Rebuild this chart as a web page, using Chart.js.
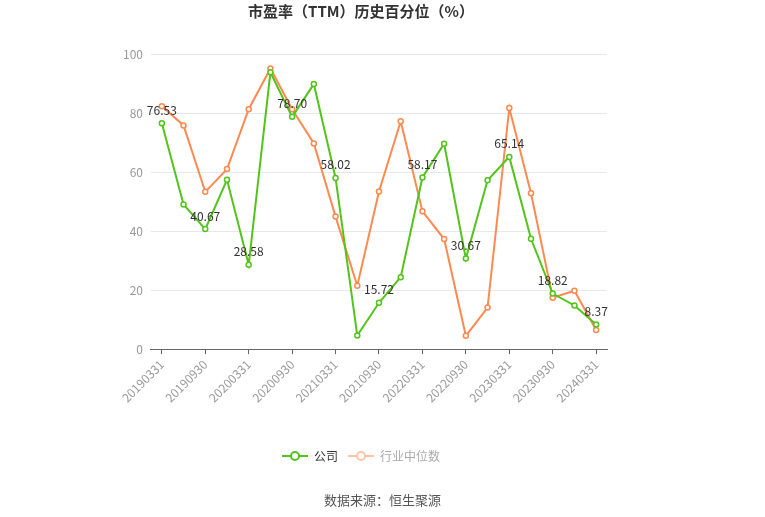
<!DOCTYPE html>
<html lang="zh">
<head>
<meta charset="UTF-8">
<title>市盈率（TTM）历史百分位</title>
<script src="https://cdn.jsdelivr.net/npm/chart.js"></script>
<style>
  html, body { margin: 0; padding: 0; background: #fff; }
  #wrap { position: relative; width: 765px; height: 517px; }
  #source { position: absolute; left: 0; width: 765px; top: 490px; text-align: center;
            font: 13px "Noto Sans CJK SC", sans-serif; color: #555; }
</style>
</head>
<body>
<div id="wrap">
  <canvas id="pe" width="765" height="517"></canvas>
  <div id="source">数据来源：恒生聚源</div>
</div>
<script>
const quarters = ['20190331','20190630','20190930','20191231','20200331','20200630','20200930','20201231',
  '20210331','20210630','20210930','20211231','20220331','20220630','20220930','20221231',
  '20230331','20230630','20230930','20231231','20240331'];
const company = [76.53, 49.0, 40.67, 57.4, 28.58, 93.8, 78.70, 89.8, 58.02, 4.6, 15.72,
  24.4, 58.17, 69.6, 30.67, 57.2, 65.14, 37.4, 18.82, 14.8, 8.37];
const industry = [82.3, 75.8, 53.3, 61.0, 81.3, 95.1, 81.3, 69.7, 44.9, 21.5, 53.4,
  77.2, 46.7, 37.3, 4.5, 14.1, 81.7, 52.8, 17.4, 19.8, 6.5];
const yTicks = [0, 20, 40, 60, 80, 100];

const GREEN = '#52c41a';
const ORANGE = '#ff8a50';
const FONT = '"Noto Sans CJK SC", "Noto Sans", sans-serif';

// legend icon: short line with a hollow circle in the middle
function legendIcon(color) {
  const c = document.createElement('canvas');
  c.width = 26; c.height = 12;
  const g = c.getContext('2d');
  g.strokeStyle = color;
  g.lineWidth = 2;
  g.beginPath(); g.moveTo(0, 6); g.lineTo(26, 6); g.stroke();
  g.fillStyle = '#fff';
  g.beginPath(); g.arc(13, 6, 4, 0, Math.PI * 2); g.fill(); g.stroke();
  return c;
}

// values above every other company point
const valueLabels = {
  id: 'valueLabels',
  afterDatasetsDraw(chart) {
    const ctx = chart.ctx;
    const meta = chart.getDatasetMeta(0);
    ctx.save();
    ctx.font = '12px ' + FONT;
    ctx.fillStyle = '#333';
    ctx.textAlign = 'center';
    ctx.textBaseline = 'middle';
    meta.data.forEach((pt, i) => {
      if (i % 2 === 0) ctx.fillText(company[i].toFixed(2), pt.x, pt.y - 13);
    });
    ctx.restore();
  }
};

new Chart(document.getElementById('pe'), {
  type: 'line',
  data: {
    labels: quarters,
    datasets: [{
      label: '公司',
      data: company,
      borderColor: GREEN,
      backgroundColor: '#fff',
      borderWidth: 2,
      pointRadius: 2.5,
      pointBorderWidth: 1.5,
      pointBorderColor: GREEN,
      pointBackgroundColor: '#fff',
      tension: 0
    }, {
      label: '行业中位数',
      data: industry,
      borderColor: ORANGE,
      backgroundColor: '#fff',
      borderWidth: 2,
      pointRadius: 2.5,
      pointBorderWidth: 1.5,
      pointBorderColor: ORANGE,
      pointBackgroundColor: '#fff',
      tension: 0
    }]
  },
  options: {
    responsive: false,
    animation: false,
    layout: { padding: { left: 115, right: 158, top: 0, bottom: 45 } },
    plugins: {
      title: {
        display: true,
        text: '市盈率（TTM）历史百分位（%）',
        font: { family: FONT, size: 15, weight: 'bold' },
        color: '#333',
        padding: { top: 2, bottom: 34 }
      },
      legend: {
        position: 'bottom',
        labels: {
          font: { family: FONT, size: 12 },
          usePointStyle: true,
          pointStyleWidth: 26,
          padding: 10,
          generateLabels(chart) {
            return chart.data.datasets.map((ds, i) => ({
              text: ds.label,
              datasetIndex: i,
              pointStyle: legendIcon(i === 0 ? GREEN : '#ffc4a8'),
              fontColor: i === 0 ? '#333' : '#aaa',
              hidden: false
            }));
          }
        }
      },
      tooltip: { enabled: false }
    },
    scales: {
      x: {
        offset: true,
        afterFit: axis => { axis.height += 32; },
        grid: {
          drawOnChartArea: false,
          color: ctx => (ctx.index % 2 === 0 ? '#666' : 'rgba(0,0,0,0)'),
          tickLength: 5
        },
        border: { color: '#666' },
        ticks: {
          autoSkip: false,
          maxRotation: 45,
          minRotation: 45,
          color: '#999',
          font: { family: FONT, size: 12 },
          callback: (v, i) => (i % 2 === 0 ? quarters[i] : '')
        }
      },
      y: {
        min: 0,
        max: 100,
        afterBuildTicks: axis => { axis.ticks = yTicks.map(v => ({ value: v })); },
        grid: { color: '#e6e8f0', drawTicks: false },
        border: { display: false },
        ticks: { color: '#999', padding: 8, font: { family: FONT, size: 12 } }
      }
    }
  },
  plugins: [valueLabels]
});
</script>
</body>
</html>
